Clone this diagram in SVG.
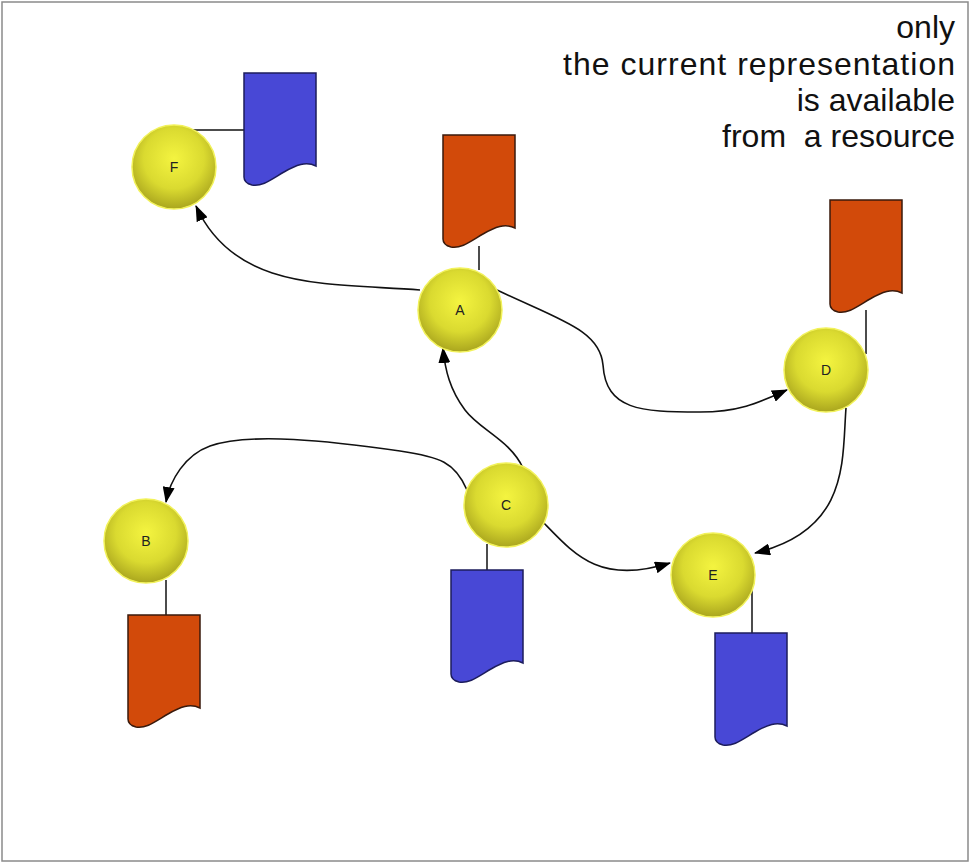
<svg xmlns="http://www.w3.org/2000/svg" width="972" height="865" viewBox="0 0 972 865">
<style>
.node{fill:url(#ball);stroke:#f2f25a;stroke-width:1.5}
.lbl{font-family:"Liberation Sans",Arial,sans-serif;font-size:14px;fill:#222;text-anchor:middle}
.blue{fill:#4848d6;stroke:#1c1c5c;stroke-width:1.5}
.red{fill:#d24a0a;stroke:#3a1a0c;stroke-width:1.5}
.tie{stroke:#111;stroke-width:1.5;fill:none}
.edge{stroke:#111;stroke-width:1.6;fill:none;marker-end:url(#arr)}
.note{font-family:"Liberation Sans",Arial,sans-serif;font-size:32px;fill:#111;text-anchor:end;white-space:pre}
</style>
<defs>
<radialGradient id="ball" cx="0.5" cy="0.4" r="0.6">
<stop offset="0" stop-color="#f4f440"/>
<stop offset="0.6" stop-color="#dada30"/>
<stop offset="1" stop-color="#aaa61e"/>
</radialGradient>
<path id="doc" d="M0,0 H72 V93 C62,88 52,92 40,99 C28,106 18,114 8,112 Q0,110 0,104 Z"/>
<marker id="arr" viewBox="0 0 16 12" refX="15" refY="6" markerWidth="16" markerHeight="12" markerUnits="userSpaceOnUse" orient="auto">
<path d="M0,0 L16,6 L0,12 Z" fill="#000"/>
</marker>
</defs>
<rect x="2" y="2" width="966" height="859" fill="#fff" stroke="#8a8a8a" stroke-width="1.5"/>
<g id="note">
<text class="note" x="955" y="38">only</text>
<text class="note" x="955" y="75" textLength="392" lengthAdjust="spacing">the current representation</text>
<text class="note" x="955" y="111">is available</text>
<text class="note" x="955" y="147" xml:space="preserve">from  a resource</text>
</g>
<g id="connectors">
<path class="edge" d="M420,290 C330,283 235,292 196,206"/>
<path class="edge" d="M497,290 C560,320 600,330 603,365 C606,410 640,412 700,412 C740,412 760,402 787,390"/>
<path class="edge" d="M523,468 C510,440 480,430 465,410 C450,390 445,370 443,348"/>
<path class="edge" d="M467,490 C455,462 440,457 400,451 C330,441 250,432 210,446 C185,455 170,480 166,502"/>
<path class="edge" d="M543,522 C575,555 600,585 670,563"/>
<path class="edge" d="M846,408 C842,460 850,530 755,553"/>
</g>
<g id="F">
<line class="tie" x1="191" y1="130" x2="244" y2="130"/>
<use href="#doc" class="blue" x="244" y="73"/>
<circle class="node" cx="174" cy="167" r="42"/>
<text class="lbl" x="174" y="172">F</text>
</g>
<g id="A">
<line class="tie" x1="479" y1="246" x2="479" y2="270"/>
<use href="#doc" class="red" x="443" y="135"/>
<circle class="node" cx="460" cy="310" r="42"/>
<text class="lbl" x="460" y="315">A</text>
</g>
<g id="D">
<line class="tie" x1="866" y1="310" x2="866" y2="354"/>
<use href="#doc" class="red" x="830" y="200"/>
<circle class="node" cx="826" cy="370" r="42"/>
<text class="lbl" x="826" y="375">D</text>
</g>
<g id="C">
<line class="tie" x1="487" y1="544" x2="487" y2="570"/>
<use href="#doc" class="blue" x="451" y="570"/>
<circle class="node" cx="506" cy="505" r="42"/>
<text class="lbl" x="506" y="510">C</text>
</g>
<g id="B">
<line class="tie" x1="166" y1="580" x2="166" y2="615"/>
<use href="#doc" class="red" x="128" y="615"/>
<circle class="node" cx="146" cy="541" r="42"/>
<text class="lbl" x="146" y="546">B</text>
</g>
<g id="E">
<line class="tie" x1="752" y1="590" x2="752" y2="633"/>
<use href="#doc" class="blue" x="715" y="633"/>
<circle class="node" cx="713" cy="575" r="42"/>
<text class="lbl" x="713" y="580">E</text>
</g>
</svg>
